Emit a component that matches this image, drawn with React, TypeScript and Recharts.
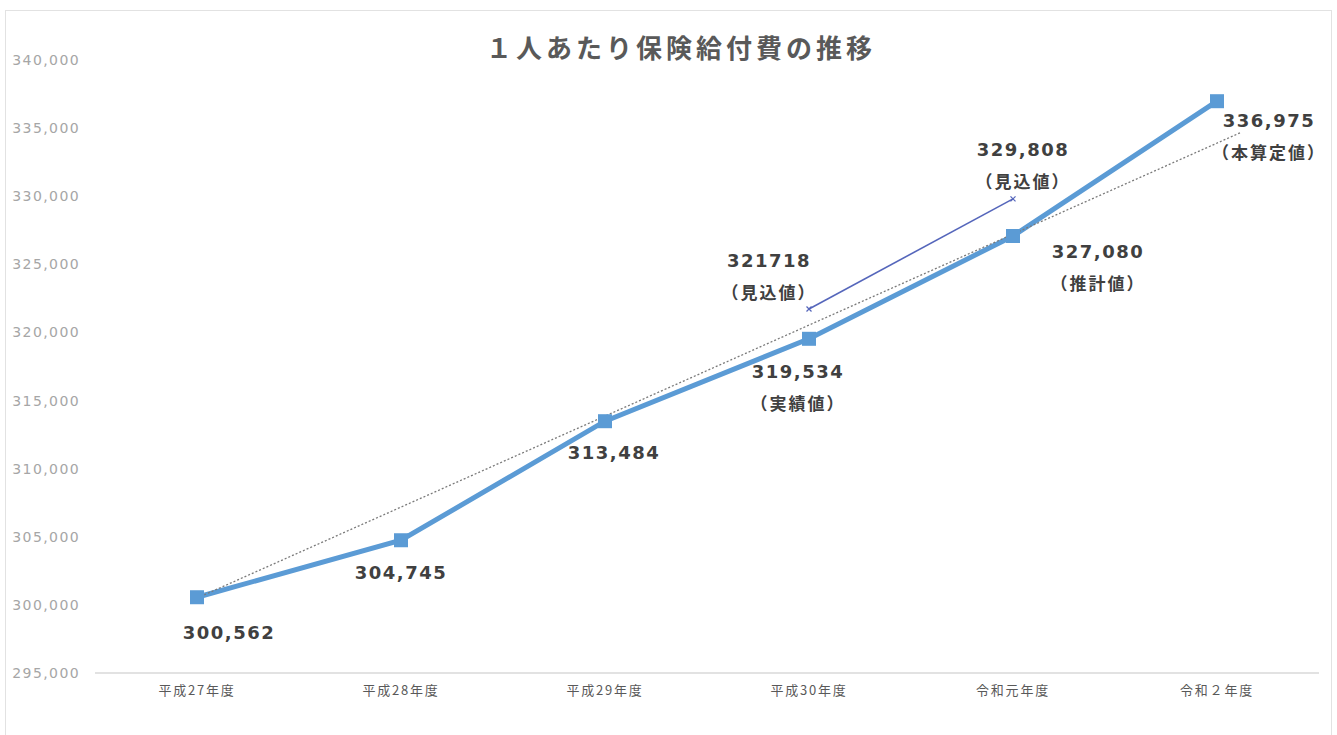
import React from "react";
import { LabelList, Line, LineChart, XAxis, YAxis } from "recharts";

// 年度
const years = ["平成27年度", "平成28年度", "平成29年度", "平成30年度", "令和元年度", "令和２年度"];

// 1人あたり保険給付費（実績・推計・本算定）
const benefit = [300562, 304745, 313484, 319534, 327080, 336975];
const benefitText = ["300,562", "304,745", "313,484", "319,534", "327,080", "336,975"];
const benefitNote = ["", "", "", "（実績値）", "（推計値）", "（本算定値）"];

// 見込値（平成30年度・令和元年度）
const estimateIdx = [3, 4];
const estimate = [321718, 329808];
const estimateText = ["321718", "329,808"];
const estimateNote = ["（見込値）", "（見込値）"];

// 線形近似（始点・終点）
const trendX = [0, 5.12];
const trend = [300500, 334700];

const yTicks = [295000, 300000, 305000, 310000, 315000, 320000, 325000, 330000, 335000, 340000];

// label placement relative to the point (styling only)
const benefitOffset = [
  [32, 35],
  [0, 32],
  [9, 31],
  [-11, 33],
  [85, 16],
  [52, 19],
];
const estimateOffset = [
  [-40, -49],
  [10, -49],
];

const W = 1337;
const H = 735;
const BLUE = "#5b9bd5";
const LABEL = "#404040";
const FONT = "'DejaVu Sans', 'Noto Sans CJK JP', sans-serif";

const mainData = benefit.map((v, i) => ({ x: i, value: v }));
const estData = estimate.map((v, i) => ({ x: estimateIdx[i], value: v }));
const trendData = trend.map((v, i) => ({ x: trendX[i], value: v }));

const fmt = (v: number) => v.toLocaleString("en-US");

function makeLabel(texts: string[], notes: string[], offsets: number[][]) {
  return (props: any) => {
    const { x, y, index } = props;
    const [dx, dy] = offsets[index];
    const cx = Number(x) + dx;
    const cy = Number(y) + dy;
    return (
      <g key={`lbl-${index}`}>
        <text
          x={cx}
          y={cy}
          textAnchor="middle"
          dominantBaseline="central"
          fill={LABEL}
          fontFamily={FONT}
          fontWeight="bold"
          fontSize={18}
          letterSpacing={1.5}
        >
          {texts[index]}
        </text>
        {notes[index] ? (
          <text
            x={cx}
            y={cy + 31}
            textAnchor="middle"
            dominantBaseline="central"
            fill={LABEL}
            fontFamily="'Noto Sans CJK JP', sans-serif"
            fontWeight="bold"
            fontSize={17}
            letterSpacing={2}
          >
            {notes[index]}
          </text>
        ) : null}
      </g>
    );
  };
}

const SquareDot = (props: any) => {
  const { cx, cy, index } = props;
  if (cx == null || cy == null) return <g key={`d-${index}`} />;
  return <rect key={`d-${index}`} x={cx - 7} y={cy - 7} width={14} height={14} fill={BLUE} />;
};

const TinyDot = (props: any) => {
  const { cx, cy, index } = props;
  if (cx == null || cy == null) return <g key={`e-${index}`} />;
  return (
    <g key={`e-${index}`} stroke="#5566bb" strokeWidth={1.2}>
      <line x1={cx - 2.5} y1={cy - 2.5} x2={cx + 2.5} y2={cy + 2.5} />
      <line x1={cx - 2.5} y1={cy + 2.5} x2={cx + 2.5} y2={cy - 2.5} />
    </g>
  );
};

export default function App() {
  return (
    <div style={{ position: "absolute", left: 0, top: 0, width: W, height: H, background: "#fff", overflow: "hidden" }}>
      <div
        style={{
          position: "absolute",
          left: 5,
          top: 10,
          width: 1327,
          height: 740,
          border: "1px solid #e2e2e2",
          boxSizing: "border-box",
        }}
      />
      <div
        style={{
          position: "absolute",
          left: 0,
          width: 1362,
          top: 29,
          textAlign: "center",
          fontFamily: "'Noto Sans CJK JP', sans-serif",
          fontWeight: "bold",
          fontSize: 26,
          letterSpacing: 4,
          color: "#595959",
          lineHeight: "36px",
        }}
      >
        １人あたり保険給付費の推移
      </div>
      <div style={{ position: "absolute", left: 0, top: 0 }}>
        <LineChart width={W} height={H} margin={{ top: 60, right: 18, bottom: 32, left: 5 }}>
          <XAxis
            type="number"
            dataKey="x"
            domain={[-0.5, 5.5]}
            ticks={[0, 1, 2, 3, 4, 5]}
            tickFormatter={(v: number) => years[v] ?? ""}
            axisLine={{ stroke: "#d9d9d9", strokeWidth: 1.5 }}
            tickLine={false}
            tickSize={0}
            tickMargin={13}
            height={30}
            allowDataOverflow
            tick={{ fill: "#595959", fontSize: 13, fontFamily: "'Noto Sans CJK JP', sans-serif", letterSpacing: 1.8 }}
          />
          <YAxis
            type="number"
            domain={[295000, 340000]}
            ticks={yTicks}
            tickFormatter={fmt}
            axisLine={false}
            tickLine={false}
            tickSize={0}
            tickMargin={15}
            width={90}
            tick={{ fill: "#a6a6a6", fontSize: 14, fontFamily: FONT, letterSpacing: 1.4 }}
          />
          <Line
            data={mainData}
            dataKey="value"
            type="linear"
            stroke={BLUE}
            strokeWidth={5}
            dot={<SquareDot />}
            activeDot={false}
            isAnimationActive={false}
          >
            <LabelList dataKey="value" content={makeLabel(benefitText, benefitNote, benefitOffset)} />
          </Line>
          <Line
            data={trendData}
            dataKey="value"
            type="linear"
            stroke="#7a7a7a"
            strokeWidth={1.3}
            strokeDasharray="2 2"
            dot={false}
            activeDot={false}
            isAnimationActive={false}
          />
          <Line
            data={estData}
            dataKey="value"
            type="linear"
            stroke="#5566bb"
            strokeWidth={1.6}
            dot={<TinyDot />}
            activeDot={false}
            isAnimationActive={false}
          >
            <LabelList dataKey="value" content={makeLabel(estimateText, estimateNote, estimateOffset)} />
          </Line>
        </LineChart>
      </div>
    </div>
  );
}
